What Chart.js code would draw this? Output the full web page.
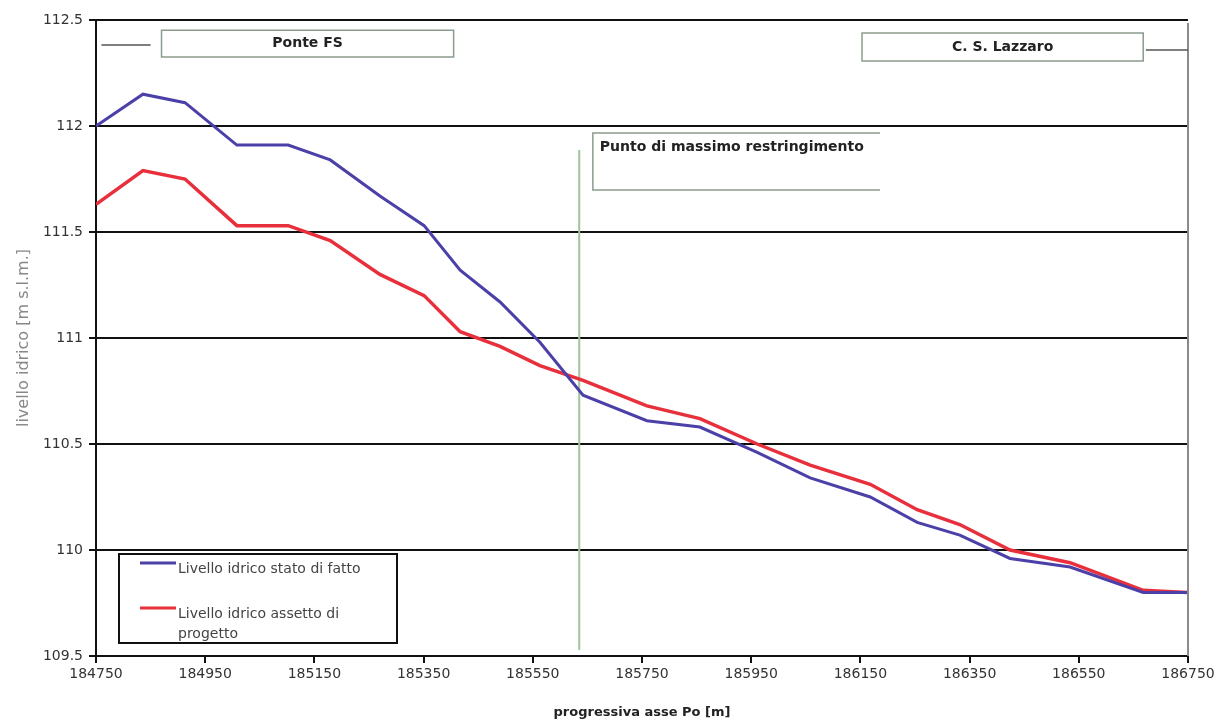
<!DOCTYPE html>
<html>
<head>
<meta charset="utf-8">
<script src="https://cdn.jsdelivr.net/npm/chart.js@4.4.1/dist/chart.umd.min.js"></script>
<style>
  html, body { margin: 0; padding: 0; background: #fff; }
  canvas { display: block; }
</style>
</head>
<body>
<canvas id="chart" width="1221" height="720"></canvas>
<script>
// progressiva asse Po [m] of each cross-section
const progressiva = [184750, 184836, 184913, 185008, 185102, 185179, 185270, 185351, 185417, 185490, 185563, 185642,
                     185759, 185856, 185961, 186058, 186168, 186254, 186332, 186424, 186534, 186668, 186748];
// livello idrico [m s.l.m.]
const statoDiFatto = [112.00, 112.15, 112.11, 111.91, 111.91, 111.84, 111.67, 111.53, 111.32, 111.17, 110.98, 110.73,
                      110.61, 110.58, 110.46, 110.34, 110.25, 110.13, 110.07, 109.96, 109.92, 109.80, 109.80];
const assettoProgetto = [111.63, 111.79, 111.75, 111.53, 111.53, 111.46, 111.30, 111.20, 111.03, 110.96, 110.87, 110.80,
                         110.68, 110.62, 110.50, 110.40, 110.31, 110.19, 110.12, 110.00, 109.94, 109.81, 109.80];

const xTicks = [184750, 184950, 185150, 185350, 185550, 185750, 185950, 186150, 186350, 186550, 186750];
const yTicks = [109.5, 110, 110.5, 111, 111.5, 112, 112.5];

const seriesNames = ['Livello idrico stato di fatto', 'Livello idrico assetto di progetto'];

Chart.defaults.font.family = 'DejaVu Sans';
Chart.defaults.color = '#333';

// text boxes drawn on the plot (value coordinates)
const notes = [
    { text: 'Ponte FS', x0: 184870, x1: 185405, y0: 112.452, y1: 112.325, align: 'center', lead: [184760, 184850, 112.382] },
    { text: 'C. S. Lazzaro', x0: 186153, x1: 186668, y0: 112.439, y1: 112.307, align: 'center', lead: [186673, 186750, 112.358] },
    { text: 'Punto di massimo restringimento', x0: 185660, x1: 186186, y0: 111.967, y1: 111.698, align: 'left', open: true }
];
const restringimento = { x: 185635, y0: 111.887, y1: 109.528 };

const overlay = {
    id: 'overlay',
    beforeDatasetsDraw(chart) {
        const ctx = chart.ctx;
        const sx = chart.scales.x, sy = chart.scales.y;
        const area = chart.chartArea;
        ctx.save();

        // right frame
        ctx.strokeStyle = '#8a8a8a';
        ctx.lineWidth = 2;
        ctx.beginPath();
        ctx.moveTo(area.right, area.top + 3);
        ctx.lineTo(area.right, area.bottom);
        ctx.stroke();

        // vertical line at the narrowest section
        ctx.strokeStyle = '#9cc79c';
        ctx.lineWidth = 2;
        ctx.beginPath();
        ctx.moveTo(sx.getPixelForValue(restringimento.x), sy.getPixelForValue(restringimento.y0));
        ctx.lineTo(sx.getPixelForValue(restringimento.x), sy.getPixelForValue(restringimento.y1));
        ctx.stroke();

        notes.forEach(n => {
            const l = sx.getPixelForValue(n.x0), r = sx.getPixelForValue(n.x1);
            const t = sy.getPixelForValue(n.y0), b = sy.getPixelForValue(n.y1);
            ctx.strokeStyle = '#8c9c8c';
            ctx.lineWidth = 1.5;
            ctx.beginPath();
            if (n.open) {
                ctx.moveTo(r, t); ctx.lineTo(l, t); ctx.lineTo(l, b); ctx.lineTo(r, b);
            } else {
                ctx.rect(l, t, r - l, b - t);
            }
            ctx.stroke();
            if (n.lead) {
                ctx.strokeStyle = '#555';
                ctx.lineWidth = 1.5;
                ctx.beginPath();
                ctx.moveTo(sx.getPixelForValue(n.lead[0]), sy.getPixelForValue(n.lead[2]));
                ctx.lineTo(sx.getPixelForValue(n.lead[1]), sy.getPixelForValue(n.lead[2]));
                ctx.stroke();
            }
            ctx.fillStyle = '#222';
            ctx.font = 'bold 14px "DejaVu Sans"';
            ctx.textBaseline = 'middle';
            if (n.align === 'center') {
                ctx.textAlign = 'center';
                ctx.fillText(n.text, (l + r) / 2, (t + b) / 2);
            } else {
                ctx.textAlign = 'left';
                ctx.fillText(n.text, l + 7, t + 14);
            }
        });
        ctx.restore();
    },
    afterDraw(chart) {
        // legend box inside the plot, bottom left
        const ctx = chart.ctx;
        const area = chart.chartArea;
        const left = area.left + 23, bottom = area.bottom - 13;
        const w = 278, h = 89;
        const top = bottom - h;
        ctx.save();
        ctx.fillStyle = '#fff';
        ctx.fillRect(left, top, w, h);
        ctx.strokeStyle = '#111';
        ctx.lineWidth = 2;
        ctx.strokeRect(left, top, w, h);

        ctx.font = '14px "DejaVu Sans"';
        ctx.fillStyle = '#444';
        ctx.textAlign = 'left';
        ctx.textBaseline = 'middle';
        const ds = chart.data.datasets;
        const rows = [
            { y: top + 9, lines: [ds[0].label] },
            { y: top + 54, lines: ['Livello idrico assetto di', 'progetto'] }
        ];
        rows.forEach((row, i) => {
            ctx.strokeStyle = ds[i].borderColor;
            ctx.lineWidth = 3;
            ctx.beginPath();
            ctx.moveTo(left + 21, row.y);
            ctx.lineTo(left + 57, row.y);
            ctx.stroke();
            row.lines.forEach((txt, k) => {
                ctx.fillText(txt, left + 59, row.y + 6 + k * 20);
            });
        });
        ctx.restore();
    }
};

new Chart(document.getElementById('chart'), {
    type: 'line',
    data: {
        datasets: [
            {
                label: seriesNames[0],
                data: progressiva.map((x, i) => ({ x: x, y: statoDiFatto[i] })),
                borderColor: '#4b40a8',
                borderWidth: 3,
                pointRadius: 0,
                tension: 0
            },
            {
                label: seriesNames[1],
                data: progressiva.map((x, i) => ({ x: x, y: assettoProgetto[i] })),
                borderColor: '#e8303c',
                borderWidth: 3.5,
                pointRadius: 0,
                tension: 0
            }
        ]
    },
    options: {
        responsive: false,
        animation: false,
        devicePixelRatio: 1,
        layout: { padding: { top: 20, right: 33, left: 0, bottom: 0 } },
        plugins: {
            legend: { display: false },
            tooltip: { enabled: false }
        },
        scales: {
            x: {
                type: 'linear',
                min: xTicks[0],
                max: xTicks[xTicks.length - 1],
                afterBuildTicks: scale => { scale.ticks = xTicks.map(v => ({ value: v })); },
                afterFit: scale => { scale.height = 64; },
                grid: { drawOnChartArea: false, color: '#111', lineWidth: 2, tickLength: 7 },
                border: { color: '#111', width: 2 },
                ticks: {
                    font: { size: 14 },
                    color: '#333',
                    padding: 3,
                    maxRotation: 0,
                    callback: v => String(v)
                },
                title: {
                    display: true,
                    text: 'progressiva asse Po [m]',
                    font: { size: 13, weight: 'bold' },
                    color: '#222',
                    padding: { top: 0, bottom: 0 }
                }
            },
            y: {
                min: yTicks[0],
                max: yTicks[yTicks.length - 1],
                afterBuildTicks: scale => { scale.ticks = yTicks.map(v => ({ value: v })); },
                afterFit: scale => { scale.width = 96; },
                grid: { color: '#111', lineWidth: 2, tickLength: 7 },
                border: { color: '#111', width: 2 },
                ticks: {
                    font: { size: 14 },
                    color: '#333',
                    padding: 6,
                    callback: v => String(v)
                },
                title: {
                    display: true,
                    text: 'livello idrico [m s.l.m.]',
                    font: { size: 16 },
                    color: '#888',
                    padding: 14
                }
            }
        }
    },
    plugins: [overlay]
});
</script>
</body>
</html>
